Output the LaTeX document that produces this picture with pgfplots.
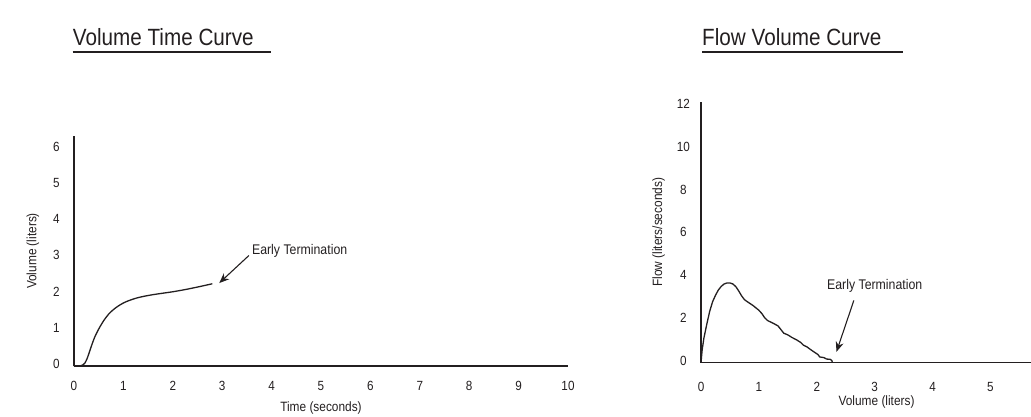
\documentclass[border=0pt]{standalone}
\usepackage{pgfplots}
\pgfplotsset{compat=1.18}
\usetikzlibrary{arrows.meta}
\usepackage{fontspec}
\setmainfont{Liberation Sans}[FakeStretch=0.88]
\definecolor{ink}{HTML}{231F20}
\begin{document}
\begin{tikzpicture}
\path[use as bounding box] (0pt,0pt) rectangle (1031pt,416pt);
\pgfplotsset{
  every axis/.append style={
    scale only axis,
    axis lines=left,
    axis line style={-, line width=1.4pt, ink},
    major tick length=0pt,
    tick label style={font=\fontsize{13.3}{15}\selectfont, text=ink},
    label style={font=\fontsize{13.5}{16}\selectfont, text=ink},
    yticklabel style={anchor=mid, xshift=-17.6pt},
    ylabel style={at={(axis description cs:0,0.5)}, anchor=center},
    /pgf/number format/assume math mode=true,
    clip=false,
  }
}
% Left: Volume Time Curve
\begin{axis}[
  at={(74pt,50pt)}, anchor=south west,
  width=494pt, height=230pt,
  xmin=0, xmax=10, ymin=0, ymax=6.35,
  xtick={0,1,...,10}, ytick={0,1,...,6},
  xticklabel style={anchor=base, yshift=-24.7pt},
  xlabel={Time (seconds)}, ylabel={Volume (liters)},
  xlabel style={at={(axis description cs:0.5,0)}, anchor=base, yshift=-45.7pt},
  ylabel style={yshift=41pt},
]
\addplot[ink, line width=1.3pt, smooth] coordinates {
(0,0) (0.12,0.0) (0.18,0.03) (0.22,0.08) (0.27,0.22) (0.32,0.42) (0.37,0.62) (0.42,0.8) (0.5,1.02) (0.6,1.25) (0.7,1.43) (0.8,1.56) (0.9,1.66) (1.0,1.74) (1.1,1.8) (1.25,1.87) (1.4,1.92) (1.6,1.97) (1.8,2.01) (2.0,2.05) (2.25,2.11) (2.5,2.18) (2.8,2.27)
};
\draw[ink, line width=1.1pt, -{Stealth[length=10pt,width=8pt]}] (axis cs:3.54,3.05) -- (axis cs:2.94,2.29);
\node[anchor=west, inner sep=0pt, font=\fontsize{14}{16}\selectfont, text=ink] at (axis cs:3.6,3.18) {Early Termination};
\end{axis}
% Right: Flow Volume Curve
\begin{axis}[
  at={(701pt,53.3pt)}, anchor=south west,
  width=330pt, height=261pt,
  xmin=0, xmax=5.7, ymin=0, ymax=12.2,
  xtick={0,1,...,5}, ytick={0,2,...,12},
  xticklabel style={anchor=base, yshift=-28.6pt},
  xlabel={Volume (liters)}, ylabel={Flow (liters/seconds)},
  xlabel style={at={(axis description cs:0.532,0)}, anchor=base, yshift=-42.3pt},
  ylabel style={yshift=42.4pt},
]
\addplot[ink, line width=1.3pt] coordinates {
(0,0) (0.02,0.6) (0.05,1.15) (0.1,1.8) (0.15,2.4) (0.2,2.85) (0.25,3.15) (0.3,3.4) (0.35,3.57) (0.4,3.68) (0.45,3.73) (0.5,3.73) (0.55,3.68) (0.6,3.56) (0.65,3.36) (0.7,3.13) (0.75,2.95) (0.8,2.85) (0.9,2.67) (1.0,2.45) (1.05,2.3) (1.1,2.1) (1.15,1.97) (1.25,1.84) (1.33,1.72) (1.38,1.55) (1.43,1.38) (1.5,1.3) (1.57,1.18) (1.65,1.07) (1.72,0.95) (1.77,0.82) (1.83,0.74) (1.9,0.6) (1.97,0.47) (2.02,0.38) (2.05,0.27) (2.12,0.24) (2.17,0.17) (2.23,0.16) (2.26,0.1) (2.27,0.0)
};
\draw[ink, line width=1.1pt, -{Stealth[length=10pt,width=8pt]}] (axis cs:2.64,2.91) -- (axis cs:2.34,0.51);
\node[anchor=center, inner sep=0pt, font=\fontsize{14}{16}\selectfont, text=ink] at (axis cs:3.0,3.6) {Early Termination};
\end{axis}
% Titles
\node[anchor=base west, inner sep=0pt, font=\fontsize{23.5}{27}\selectfont, text=ink] at (72.7pt,370pt) {Volume Time Curve};
\draw[ink, line width=1.8pt] (72.7pt,364.3pt) -- (271pt,364.3pt);
\node[anchor=base west, inner sep=0pt, font=\fontsize{23.5}{27}\selectfont, text=ink] at (702pt,370pt) {Flow Volume Curve};
\draw[ink, line width=1.8pt] (702pt,364.3pt) -- (903pt,364.3pt);
\end{tikzpicture}
\end{document}
